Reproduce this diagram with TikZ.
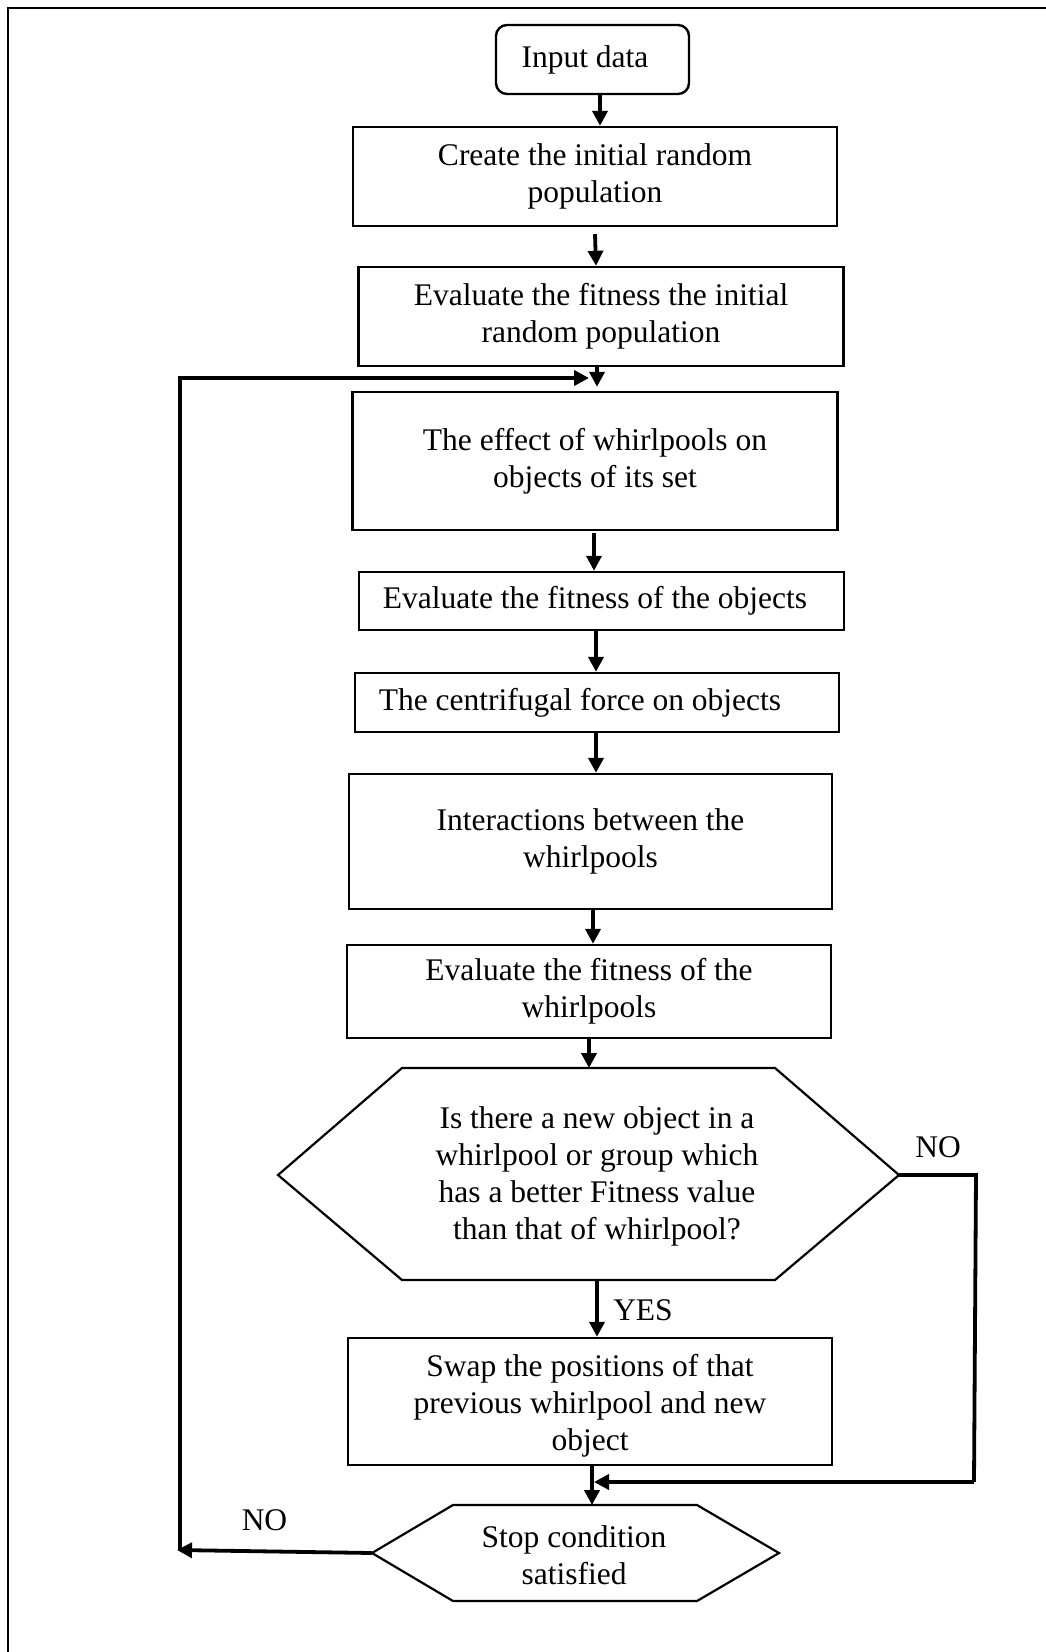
\documentclass[tikz,border=0pt]{standalone}
\usepackage{fontspec}
\setmainfont{Liberation Serif}
\usetikzlibrary{arrows.meta,calc}
\begin{document}
\begin{tikzpicture}[x=1pt,y=-1pt,
  every node/.style={font=\fontsize{31.5}{37}\selectfont},
  box/.style={draw,line width=2.4pt,inner sep=0pt,align=center},
  arr/.style={line width=3.8pt,-{Triangle[length=15pt,width=15pt]}},
  conn/.style={line width=3.8pt},
  hex/.style={draw,line width=2.2pt,line join=miter},
  lbl/.style={inner sep=0pt}]
\useasboundingbox (0,0) rectangle (1046,1652);
% outer frame (top and left edges visible)
\draw[line width=2.6pt] (8,1652) -- (8,8) -- (1046,8);

\node[box,rounded corners=11pt,minimum width=193pt,minimum height=69pt] (input) at (592.5,59.5) {Input data\hspace*{15pt}};
\node[box,minimum width=484pt,minimum height=99pt] (create) at (595,176.5) {Create the initial random\\population};
\node[box,minimum width=485pt,minimum height=99pt] (evalinit) at (601,316.5) {Evaluate the fitness the initial\\random population};
\node[box,minimum width=485pt,minimum height=138pt] (effect) at (595,461) {The effect of whirlpools on\\objects of its set};
\node[box,minimum width=485pt,minimum height=58pt] (evalobj) at (601.5,601) {Evaluate the fitness of the objects\hspace*{13pt}};
\node[box,minimum width=484pt,minimum height=59pt] (centri) at (597,702.5) {The centrifugal force on objects\hspace*{34pt}};
\node[box,minimum width=483pt,minimum height=135pt] (inter) at (590.5,841.5) {Interactions between the\\whirlpools};
\node[box,minimum width=484pt,minimum height=93pt] (evalw) at (589,991.5) {Evaluate the fitness of the\\whirlpools};

% decision hexagon
\coordinate (qW) at (278,1175);
\coordinate (qNW) at (402,1068);
\coordinate (qNE) at (775,1068);
\coordinate (qE) at (899,1175);
\coordinate (qSE) at (775,1280);
\coordinate (qSW) at (402,1280);
\draw[hex] (qW) -- (qNW) -- (qNE) -- (qE) -- (qSE) -- (qSW) -- cycle;
\node[lbl,align=center] (q) at (597,1176) {Is there a new object in a\\whirlpool or group which\\has a better Fitness value\\than that of whirlpool?};
\coordinate (qN) at (589,1068);
\coordinate (qS) at (597,1280);

\node[box,minimum width=484pt,minimum height=127pt] (swap) at (590,1401.5) {};
\node[lbl,align=center] (swaptxt) at (590,1406) {Swap the positions of that\\previous whirlpool and new\\object};

% stop hexagon
\coordinate (sW) at (372,1553);
\coordinate (sNW) at (453,1505);
\coordinate (sNE) at (697,1505);
\coordinate (sE) at (779,1553);
\coordinate (sSE) at (697,1601);
\coordinate (sSW) at (453,1601);
\draw[hex] (sW) -- (sNW) -- (sNE) -- (sE) -- (sSE) -- (sSW) -- cycle;
\node[lbl,align=center] (stop) at (574,1555) {Stop condition\\satisfied};
\coordinate (sN) at (592,1505);

% main connectors
\draw[arr] ([xshift=7.5pt]input.south) -- ([xshift=5pt]create.north);
\draw[arr] ([yshift=-7pt]create.south) -- ([xshift=-5pt]evalinit.north);
\draw[arr] ([xshift=-4pt]evalinit.south) -- ([xshift=2pt,yshift=4pt]effect.north);
\draw[arr] ([xshift=-1pt,yshift=-2pt]effect.south) -- ([xshift=-7.5pt]evalobj.north);
\draw[arr] ([xshift=-5.5pt]evalobj.south) -- ([xshift=-1pt]centri.north);
\draw[arr] ([xshift=-1pt]centri.south) -- ([xshift=5.5pt]inter.north);
\draw[arr] ([xshift=2.5pt]inter.south) -- ([xshift=4pt]evalw.north);
\draw[arr] (evalw.south) -- (qN);
\draw[arr] (qS) -- ([xshift=7pt]swap.north);
\node[lbl] (yes) at (643,1310) {YES};
\draw[arr] ([xshift=2pt,yshift=2pt]swap.south) -- (sN);

% NO branch on the right
\coordinate (noTop) at (976,1175);
\coordinate (noBot) at (974,1482);
\coordinate (join) at (594,1482);
\draw[conn,line join=miter] (qE) -- (noTop) -- (noBot);
\draw[arr] (noBot) -- (join);
\node[lbl] (no1) at (938,1147) {NO};

% NO loop back on the left
\coordinate (loopB) at (177,1550);
\coordinate (loopT) at (180,378);
\coordinate (loopEnd) at (589,378);
\draw[arr] (sW) -- (loopB);
\draw[conn] (180,1550) -- (loopT);
\draw[arr] ([xshift=-1.9pt]loopT) -- (loopEnd);
\node[lbl] (no2) at (264.5,1520) {NO};
\end{tikzpicture}
\end{document}
